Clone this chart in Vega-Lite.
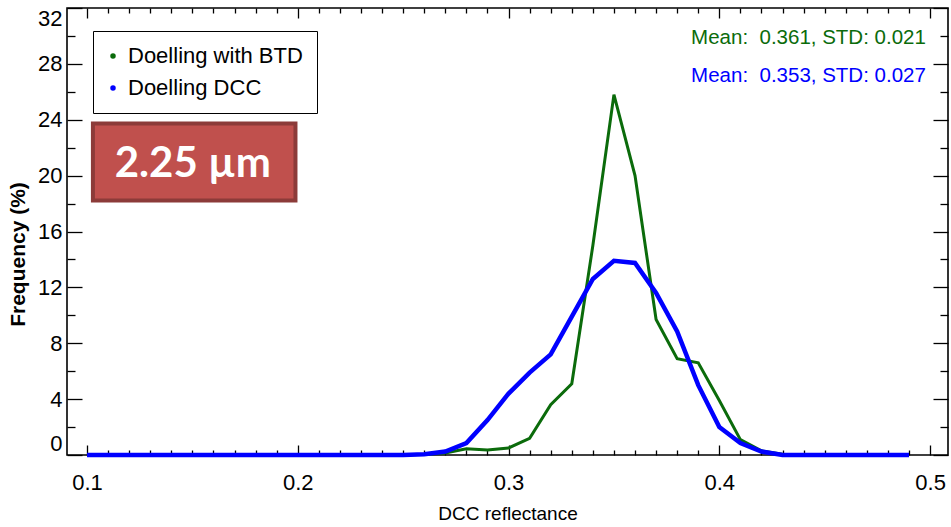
{
  "$schema": "https://vega.github.io/schema/vega-lite/v6.json",
  "width": 881,
  "height": 447,
  "autosize": {"type": "none"},
  "padding": {"left": 67, "top": 8, "right": 3, "bottom": 72},
  "background": "white",
  "config": {"view": {"stroke": "black", "strokeWidth": 1.6}, "font": "Liberation Sans"},
  "data": {"values": [
    {"series": "Doelling with BTD", "x": 0.10, "freq": 0},
    {"series": "Doelling with BTD", "x": 0.11, "freq": 0},
    {"series": "Doelling with BTD", "x": 0.12, "freq": 0},
    {"series": "Doelling with BTD", "x": 0.13, "freq": 0},
    {"series": "Doelling with BTD", "x": 0.14, "freq": 0},
    {"series": "Doelling with BTD", "x": 0.15, "freq": 0},
    {"series": "Doelling with BTD", "x": 0.16, "freq": 0},
    {"series": "Doelling with BTD", "x": 0.17, "freq": 0},
    {"series": "Doelling with BTD", "x": 0.18, "freq": 0},
    {"series": "Doelling with BTD", "x": 0.19, "freq": 0},
    {"series": "Doelling with BTD", "x": 0.20, "freq": 0},
    {"series": "Doelling with BTD", "x": 0.21, "freq": 0},
    {"series": "Doelling with BTD", "x": 0.22, "freq": 0},
    {"series": "Doelling with BTD", "x": 0.23, "freq": 0},
    {"series": "Doelling with BTD", "x": 0.24, "freq": 0},
    {"series": "Doelling with BTD", "x": 0.25, "freq": 0},
    {"series": "Doelling with BTD", "x": 0.26, "freq": 0.05},
    {"series": "Doelling with BTD", "x": 0.27, "freq": 0.15},
    {"series": "Doelling with BTD", "x": 0.28, "freq": 0.45},
    {"series": "Doelling with BTD", "x": 0.29, "freq": 0.35},
    {"series": "Doelling with BTD", "x": 0.30, "freq": 0.5},
    {"series": "Doelling with BTD", "x": 0.31, "freq": 1.2},
    {"series": "Doelling with BTD", "x": 0.32, "freq": 3.6},
    {"series": "Doelling with BTD", "x": 0.33, "freq": 5.1},
    {"series": "Doelling with BTD", "x": 0.34, "freq": 15.0},
    {"series": "Doelling with BTD", "x": 0.35, "freq": 25.8},
    {"series": "Doelling with BTD", "x": 0.36, "freq": 20.0},
    {"series": "Doelling with BTD", "x": 0.37, "freq": 9.7},
    {"series": "Doelling with BTD", "x": 0.38, "freq": 6.9},
    {"series": "Doelling with BTD", "x": 0.39, "freq": 6.6},
    {"series": "Doelling with BTD", "x": 0.40, "freq": 3.9},
    {"series": "Doelling with BTD", "x": 0.41, "freq": 1.1},
    {"series": "Doelling with BTD", "x": 0.42, "freq": 0.3},
    {"series": "Doelling with BTD", "x": 0.43, "freq": 0.05},
    {"series": "Doelling with BTD", "x": 0.44, "freq": 0},
    {"series": "Doelling with BTD", "x": 0.45, "freq": 0},
    {"series": "Doelling with BTD", "x": 0.46, "freq": 0},
    {"series": "Doelling with BTD", "x": 0.47, "freq": 0},
    {"series": "Doelling with BTD", "x": 0.48, "freq": 0},
    {"series": "Doelling with BTD", "x": 0.49, "freq": 0},
    {"series": "Doelling DCC", "x": 0.10, "freq": 0},
    {"series": "Doelling DCC", "x": 0.11, "freq": 0},
    {"series": "Doelling DCC", "x": 0.12, "freq": 0},
    {"series": "Doelling DCC", "x": 0.13, "freq": 0},
    {"series": "Doelling DCC", "x": 0.14, "freq": 0},
    {"series": "Doelling DCC", "x": 0.15, "freq": 0},
    {"series": "Doelling DCC", "x": 0.16, "freq": 0},
    {"series": "Doelling DCC", "x": 0.17, "freq": 0},
    {"series": "Doelling DCC", "x": 0.18, "freq": 0},
    {"series": "Doelling DCC", "x": 0.19, "freq": 0},
    {"series": "Doelling DCC", "x": 0.20, "freq": 0},
    {"series": "Doelling DCC", "x": 0.21, "freq": 0},
    {"series": "Doelling DCC", "x": 0.22, "freq": 0},
    {"series": "Doelling DCC", "x": 0.23, "freq": 0},
    {"series": "Doelling DCC", "x": 0.24, "freq": 0},
    {"series": "Doelling DCC", "x": 0.25, "freq": 0},
    {"series": "Doelling DCC", "x": 0.26, "freq": 0.05},
    {"series": "Doelling DCC", "x": 0.27, "freq": 0.25},
    {"series": "Doelling DCC", "x": 0.28, "freq": 0.85},
    {"series": "Doelling DCC", "x": 0.29, "freq": 2.5},
    {"series": "Doelling DCC", "x": 0.30, "freq": 4.4},
    {"series": "Doelling DCC", "x": 0.31, "freq": 5.9},
    {"series": "Doelling DCC", "x": 0.32, "freq": 7.2},
    {"series": "Doelling DCC", "x": 0.33, "freq": 9.9},
    {"series": "Doelling DCC", "x": 0.34, "freq": 12.6},
    {"series": "Doelling DCC", "x": 0.35, "freq": 13.9},
    {"series": "Doelling DCC", "x": 0.36, "freq": 13.75},
    {"series": "Doelling DCC", "x": 0.37, "freq": 11.6},
    {"series": "Doelling DCC", "x": 0.38, "freq": 8.85},
    {"series": "Doelling DCC", "x": 0.39, "freq": 5.0},
    {"series": "Doelling DCC", "x": 0.40, "freq": 2.0},
    {"series": "Doelling DCC", "x": 0.41, "freq": 0.85},
    {"series": "Doelling DCC", "x": 0.42, "freq": 0.25},
    {"series": "Doelling DCC", "x": 0.43, "freq": 0},
    {"series": "Doelling DCC", "x": 0.44, "freq": 0},
    {"series": "Doelling DCC", "x": 0.45, "freq": 0},
    {"series": "Doelling DCC", "x": 0.46, "freq": 0},
    {"series": "Doelling DCC", "x": 0.47, "freq": 0},
    {"series": "Doelling DCC", "x": 0.48, "freq": 0},
    {"series": "Doelling DCC", "x": 0.49, "freq": 0}
  ]},
  "layer": [
    {
      "transform": [{"filter": "datum.series === 'Doelling with BTD'"}],
      "mark": {"type": "line", "strokeWidth": 3},
      "encoding": {
        "x": {"field": "x", "type": "quantitative",
          "scale": {"domain": [0.0905, 0.5085], "nice": false, "zero": false},
          "axis": {"orient": "bottom", "values": [0.1,0.11,0.12,0.13,0.14,0.15,0.16,0.17,0.18,0.19,0.2,0.21,0.22,0.23,0.24,0.25,0.26,0.27,0.28,0.29,0.3,0.31,0.32,0.33,0.34,0.35,0.36,0.37,0.38,0.39,0.4,0.41,0.42,0.43,0.44,0.45,0.46,0.47,0.48,0.49,0.5],
            "tickSize": {"condition": {"test": "abs(datum.value*10 - round(datum.value*10)) < 0.001", "value": -10}, "value": -5},
            "tickColor": "black", "tickWidth": 1.3, "domain": false, "grid": false,
            "labelExpr": "abs(datum.value*10 - round(datum.value*10)) < 0.001 ? format(datum.value, '.1f') : ''",
            "labelFont": "Liberation Sans", "labelFontSize": 22, "labelColor": "black",
            "labelPadding": 27, "labelOverlap": false, "labelFlush": false, "labelBound": false,
            "title": "DCC reflectance", "titleFont": "Liberation Sans", "titleFontSize": 19, "titleFontWeight": "normal", "titleColor": "black",
            "titleY": 58, "titleBaseline": "middle"}},
        "y": {"field": "freq", "type": "quantitative",
          "scale": {"domain": [0, 32], "nice": false},
          "axis": {"orient": "left", "values": [0,2,4,6,8,10,12,14,16,18,20,22,24,26,28,30,32],
            "tickSize": {"condition": {"test": "datum.value % 4 === 0", "value": -15}, "value": -8},
            "tickColor": "black", "tickWidth": 1.3, "domain": false, "grid": false,
            "labelExpr": "datum.value % 4 === 0 ? datum.label : ''",
            "labelFont": "Liberation Sans", "labelFontSize": 22, "labelColor": "black",
            "labelPadding": 20, "labelOverlap": false, "labelFlush": true, "labelBound": false,
            "title": "Frequency (%)", "titleFont": "Liberation Sans", "titleFontSize": 21, "titleFontWeight": "bold", "titleColor": "black",
            "titleX": -49, "titleY": 246, "titleAngle": 270, "titleAlign": "center", "titleBaseline": "middle"}},
        "color": {"field": "series", "type": "nominal",
          "scale": {"domain": ["Doelling with BTD", "Doelling DCC"], "range": ["#0b6b0b", "#0000ff"]},
          "legend": {"orient": "none", "legendX": 26, "legendY": 23, "title": null,
            "strokeColor": "black", "fillColor": "white", "padding": 14,
            "labelFont": "Liberation Sans", "labelFontSize": 22, "labelColor": "black", "labelLimit": 400,
            "symbolType": "circle", "symbolSize": 9, "symbolStrokeWidth": 2.5, "symbolOffset": -5, "labelOffset": 4, "rowPadding": 10}}
      }
    },
    {
      "transform": [{"filter": "datum.series === 'Doelling DCC'"}],
      "mark": {"type": "line", "strokeWidth": 4.5},
      "encoding": {
        "x": {"field": "x", "type": "quantitative",
          "axis": {"orient": "top", "values": [0.1,0.11,0.12,0.13,0.14,0.15,0.16,0.17,0.18,0.19,0.2,0.21,0.22,0.23,0.24,0.25,0.26,0.27,0.28,0.29,0.3,0.31,0.32,0.33,0.34,0.35,0.36,0.37,0.38,0.39,0.4,0.41,0.42,0.43,0.44,0.45,0.46,0.47,0.48,0.49,0.5],
            "tickSize": {"condition": {"test": "abs(datum.value*10 - round(datum.value*10)) < 0.001", "value": -10}, "value": -5},
            "tickColor": "black", "tickWidth": 1.3, "domain": false, "grid": false, "labels": false, "title": null}},
        "y": {"field": "freq", "type": "quantitative",
          "axis": {"orient": "right", "values": [0,2,4,6,8,10,12,14,16,18,20,22,24,26,28,30,32],
            "tickSize": {"condition": {"test": "datum.value % 4 === 0", "value": -15}, "value": -8},
            "tickColor": "black", "tickWidth": 1.3, "domain": false, "grid": false, "labels": false, "title": null}},
        "color": {"field": "series", "type": "nominal"}
      }
    },
    {
      "data": {"values": [{"label": "2.25 µm"}]},
      "mark": {"type": "rect", "fill": "#c0504d", "stroke": "#8c3b39", "strokeWidth": 4},
      "encoding": {
        "x": {"datum": 0.1028, "type": "quantitative", "axis": null},
        "x2": {"datum": 0.1989},
        "y": {"datum": 23.74, "type": "quantitative", "axis": null},
        "y2": {"datum": 18.22}
      }
    },
    {
      "data": {"values": [{"label": "2.25 µm"}]},
      "mark": {"type": "text", "font": "Lato", "fontWeight": "bold", "fontSize": 42, "fill": "white", "align": "center", "baseline": "alphabetic"},
      "encoding": {
        "x": {"datum": 0.1502, "type": "quantitative", "axis": null},
        "y": {"datum": 19.9, "type": "quantitative", "axis": null},
        "text": {"field": "label"}
      }
    },
    {
      "data": {"values": [{"series": "Doelling with BTD", "label": "Mean:\u00a0 0.361, STD: 0.021"}]},
      "mark": {"type": "text", "font": "Liberation Sans", "fontSize": 20.5, "align": "right", "baseline": "alphabetic"},
      "encoding": {
        "x": {"datum": 0.498, "type": "quantitative", "axis": null},
        "y": {"datum": 29.45, "type": "quantitative", "axis": null},
        "text": {"field": "label"},
        "color": {"field": "series", "type": "nominal", "legend": null}
      }
    },
    {
      "data": {"values": [{"series": "Doelling DCC", "label": "Mean:\u00a0 0.353, STD: 0.027"}]},
      "mark": {"type": "text", "font": "Liberation Sans", "fontSize": 20.5, "align": "right", "baseline": "alphabetic"},
      "encoding": {
        "x": {"datum": 0.498, "type": "quantitative", "axis": null},
        "y": {"datum": 26.7, "type": "quantitative", "axis": null},
        "text": {"field": "label"},
        "color": {"field": "series", "type": "nominal", "legend": null}
      }
    }
  ],
  "resolve": {"axis": {"x": "independent", "y": "independent"}}
}
